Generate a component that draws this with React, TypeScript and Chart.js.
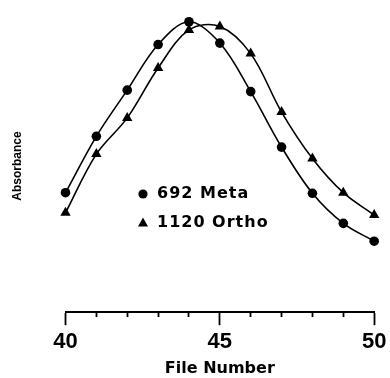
import React, { useEffect, useRef } from 'react';
import { Chart, registerables } from 'chart.js';

Chart.register(...registerables);

// ---- data ----
const fileNumbers = [40, 41, 42, 43, 44, 45, 46, 47, 48, 49, 50];
const metaValues = [40.9, 60.2, 76.0, 91.6, 99.4, 92.1, 75.5, 56.5, 40.7, 30.4, 24.3];
const orthoValues = [34.0, 54.1, 66.5, 83.6, 96.6, 97.8, 88.5, 68.5, 52.6, 40.9, 33.3];
const labeledTicks = [40, 45, 50];
const seriesLabels = ['692 Meta', '1120 Ortho'];
const seriesShapes = ['circle', 'triangle'];

const insideLegend = {
  id: 'insideLegend',
  afterDatasetsDraw(chart: any) {
    const { ctx, chartArea } = chart;
    const x0 = chartArea.left + 77.5;
    const y0 = chartArea.top + 174;
    ctx.save();
    ctx.fillStyle = '#000';
    chart.data.datasets.forEach((ds: any, i: number) => {
      const y = y0 + i * 29;
      ctx.beginPath();
      if (ds.pointStyle === 'triangle') {
        ctx.moveTo(x0, y - 5.5);
        ctx.lineTo(x0 + 5, y + 3.5);
        ctx.lineTo(x0 - 5, y + 3.5);
        ctx.closePath();
      } else {
        ctx.arc(x0, y, 4.6, 0, Math.PI * 2);
      }
      ctx.fill();
      ctx.font = 'bold 16px "DejaVu Sans"';
      try { (ctx as any).letterSpacing = '1px'; } catch (e) {}
      ctx.textBaseline = 'middle';
      ctx.textAlign = 'left';
      ctx.fillText(ds.label, x0 + 14, y);
      try { (ctx as any).letterSpacing = '0px'; } catch (e) {}
    });
    ctx.restore();
  },
};

export default function App() {
  const ref = useRef<HTMLCanvasElement | null>(null);

  useEffect(() => {
    if (!ref.current) return;
    const mk = (vals: number[], i: number) => ({
      label: seriesLabels[i],
      data: fileNumbers.map((x, j) => ({ x, y: vals[j] })),
      borderColor: '#000',
      backgroundColor: '#000',
      borderWidth: 1.6,
      tension: 0.35,
      pointStyle: seriesShapes[i],
      pointRadius: i === 0 ? 4.8 : 6,
      pointBackgroundColor: '#000',
      pointBorderColor: '#000',
      pointBorderWidth: 0,
      clip: false,
      fill: false,
    });
    const chart = new Chart(ref.current, {
      type: 'line',
      data: { datasets: [mk(metaValues, 0), mk(orthoValues, 1)] },
      options: {
        animation: false,
        responsive: false,
        events: [],
        layout: { padding: { left: 6.5, right: 14.5, top: 20, bottom: 0 } },
        plugins: { legend: { display: false }, tooltip: { enabled: false } },
        scales: {
          x: {
            type: 'linear',
            min: 40,
            max: 50,
            ticks: {
              stepSize: 1,
              autoSkip: false,
              maxRotation: 0,
              padding: 3.6,
              color: '#000',
              font: { family: 'Liberation Sans', weight: 'bold', size: 22 },
              callback: (v: any) => (labeledTicks.includes(Number(v)) ? String(v) : ''),
            },
            grid: {
              display: true,
              drawOnChartArea: false,
              drawTicks: true,
              tickLength: 13,
              tickWidth: 1.8,
              tickColor: '#000',
              tickBorderDash: (c: any) =>
                c.tick && labeledTicks.includes(c.tick.value) ? [] : [4, 100],
            },
            border: { display: true, color: '#000', width: 2 },
            title: {
              display: true,
              text: 'File Number',
              color: '#000',
              font: { family: 'DejaVu Sans', weight: 'bold', size: 16 },
              padding: { top: 0, bottom: 0 },
            },
          },
          y: {
            min: 0,
            max: 100,
            display: true,
            ticks: { display: false },
            grid: { display: false, drawTicks: false },
            border: { display: false },
            title: {
              display: true,
              text: 'Absorbance',
              color: '#000',
              font: { family: 'Liberation Sans', weight: 'bold', size: 12 },
              padding: { top: 4, bottom: 40.6 },
            },
          },
        },
      } as any,
      plugins: [insideLegend],
    });
    return () => chart.destroy();
  }, []);

  return (
    <div style={{ position: 'fixed', left: 0, top: 0, width: 390, height: 378, background: '#fff' }}>
      <canvas ref={ref} width={390} height={378} />
    </div>
  );
}
